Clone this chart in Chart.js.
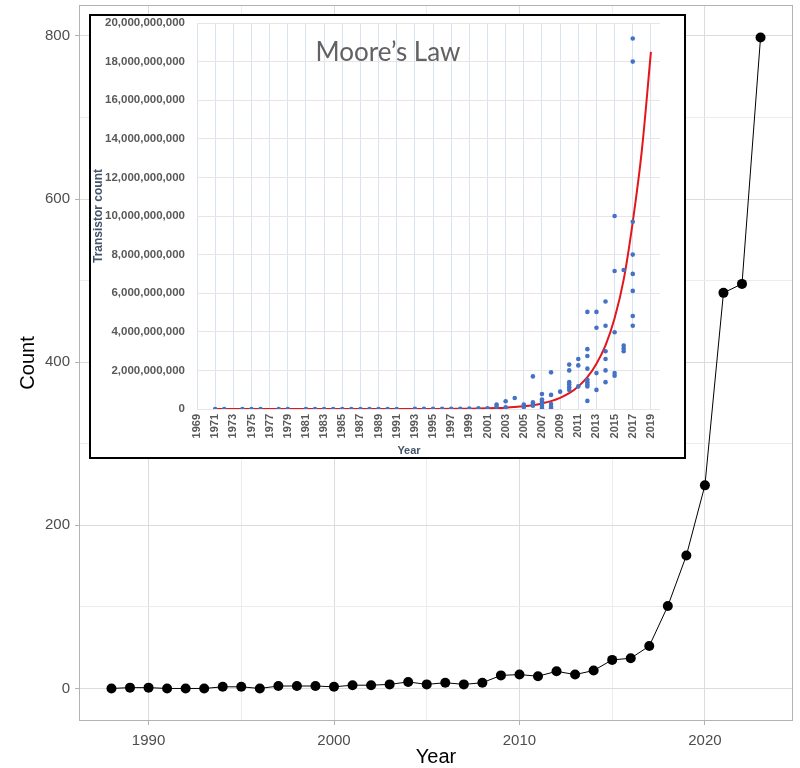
<!DOCTYPE html>
<html>
<head>
<meta charset="utf-8">
<script src="https://cdn.jsdelivr.net/npm/chart.js@4.4.1/dist/chart.umd.min.js"></script>
<style>
  html, body { margin: 0; padding: 0; background: #fff; }
  #wrap { position: relative; width: 800px; height: 768px; }
  #main { position: absolute; left: 0; top: 0; }
  #insetBox { position: absolute; left: 89px; top: 14px; width: 597px; height: 445px;
              border: 2px solid #000; box-sizing: border-box; background: #fff; }
  #inset { display: block; }
</style>
</head>
<body>
<div id="wrap">
  <canvas id="main" width="800" height="768"></canvas>
  <div id="insetBox"><canvas id="inset" width="593" height="441"></canvas></div>
</div>
<script>
// ---- Main series: yearly count ----
const years = [1988, 1989, 1990, 1991, 1992, 1993, 1994, 1995, 1996, 1997, 1998, 1999,
               2000, 2001, 2002, 2003, 2004, 2005, 2006, 2007, 2008, 2009, 2010, 2011,
               2012, 2013, 2014, 2015, 2016, 2017, 2018, 2019, 2020, 2021, 2022, 2023];
const counts = [0, 1, 1, 0, 0, 0, 2, 2, 0, 3, 3, 3,
                2, 4, 4, 5, 8, 5, 7, 5, 7, 16, 17, 15,
                21, 17, 22, 35, 37, 52, 101, 163, 249, 485, 496, 798];

const xGridYears = [1990, 1995, 2000, 2005, 2010, 2015, 2020];
const xLabelYears = [1990, 2000, 2010, 2020];
const yGridCounts = [0, 100, 200, 300, 400, 500, 600, 700, 800];
const yLabelCounts = [0, 200, 400, 600, 800];

// ---- Inset: transistor count per processor (billions) ----
const insetYears = [
  1971, 1972, 1974, 1975, 1976, 1978, 1979, 1981, 1982, 1983, 1984, 1985, 1986, 1987, 1988, 1989, 1990,
  1991, 1993, 1994, 1995, 1996, 1997, 1998, 1999, 2000, 2001,
  2002, 2002, 2003, 2003, 2004, 2005, 2005,
  2006, 2006, 2006, 2006,
  2007, 2007, 2007, 2007, 2007, 2007,
  2008, 2008, 2008, 2008, 2008,
  2009,
  2010, 2010, 2010, 2010, 2010, 2010,
  2011, 2011, 2011,
  2012, 2012, 2012, 2012, 2012, 2012, 2012, 2012, 2012,
  2013, 2013, 2013, 2013,
  2014, 2014, 2014, 2014, 2014, 2014,
  2015, 2015, 2015, 2015, 2015,
  2016, 2016, 2016, 2016,
  2017, 2017, 2017, 2017, 2017, 2017, 2017, 2017
];
const insetCountsBn = [
  0, 0, 0, 0, 0, 0, 0, 0, 0, 0, 0, 0, 0, 0, 0, 0, 0,
  0, 0.01, 0.01, 0.01, 0.01, 0.01, 0.01, 0.02, 0.03, 0.04,
  0.23, 0.12, 0.40, 0.09, 0.57, 0.23, 0.10,
  1.69, 0.35, 0.26, 0.17,
  0.78, 0.49, 0.40, 0.30, 0.17, 0.05,
  1.90, 0.73, 0.26, 0.12, 0.03,
  0.90,
  2.30, 2.00, 1.39, 1.27, 1.13, 0.99,
  2.59, 2.26, 1.17,
  5.03, 3.10, 2.75, 2.09, 1.51, 1.39, 1.27, 1.17, 0.42,
  5.03, 4.21, 1.86, 0.99,
  5.57, 4.31, 2.99, 2.59, 2.00, 1.39,
  10.0, 7.15, 3.98, 1.86, 1.72,
  7.20, 3.29, 3.13, 2.99,
  19.2, 18.0, 9.7, 8.0, 7.0, 6.12, 4.82, 4.31
];

// Trend curve sampled per year (billions)
const trendYears = [1971, 1975, 1980, 1985, 1990, 1995, 1998, 1999, 2000, 2001, 2002, 2003, 2004, 2005,
                    2006, 2007, 2008, 2009, 2010, 2011, 2012, 2013, 2014, 2015, 2016, 2017, 2018, 2019];
const trendBn = [0, 0, 0, 0, 0, 0.004, 0.012, 0.018, 0.025, 0.035, 0.05, 0.07, 0.1, 0.14,
                 0.2, 0.29, 0.41, 0.58, 0.82, 1.17, 1.65, 2.35, 3.3, 4.7, 6.7, 9.7, 13.4, 18.5];

const insetXTicks = [1969, 1971, 1973, 1975, 1977, 1979, 1981, 1983, 1985, 1987, 1989, 1991, 1993,
                     1995, 1997, 1999, 2001, 2003, 2005, 2007, 2009, 2011, 2013, 2015, 2017, 2019];
const insetYTicksBn = [0, 2, 4, 6, 8, 10, 12, 14, 16, 18, 20];

const pairs = (xs, ys) => xs.map((x, i) => ({ x, y: ys[i] }));

// Keep tick-label overhang from shrinking the plotting area
const noOverhang = s => { s.paddingTop = 0; s.paddingBottom = 0; s.paddingLeft = 0; s.paddingRight = 0; };

// Grey panel frame around the plotting area
const panelBorder = {
  id: 'panelBorder',
  beforeDatasetsDraw(chart) {
    const { ctx, chartArea: a } = chart;
    ctx.save();
    ctx.strokeStyle = '#b3b3b3';
    ctx.lineWidth = 1;
    ctx.strokeRect(a.left + 0.5, a.top + 0.5, a.right - a.left - 1, a.bottom - a.top - 1);
    ctx.restore();
  }
};

const tickFont = { family: '"Liberation Sans", Arial, sans-serif', size: 15 };
const titleFont = { family: '"Liberation Sans", Arial, sans-serif', size: 20, lineHeight: 1.1 };

new Chart(document.getElementById('main'), {
  type: 'scatter',
  data: {
    datasets: [{
      data: pairs(years, counts),
      showLine: true,
      borderColor: '#000',
      borderWidth: 1,
      backgroundColor: '#000',
      pointRadius: 5,
      pointBorderWidth: 0,
      pointHoverRadius: 5
    }]
  },
  options: {
    responsive: false,
    animation: false,
    devicePixelRatio: 1,
    layout: { padding: { left: 0, right: 7, top: 5, bottom: 0 } },
    plugins: { legend: { display: false }, tooltip: { enabled: false } },
    scales: {
      x: {
        type: 'linear', min: 1986.25, max: 2024.75,
        afterBuildTicks: s => { s.ticks = xGridYears.map(v => ({ value: v })); },
        afterFit: s => { s.height = 47; noOverhang(s); },
        ticks: {
          autoSkip: false, maxRotation: 0, padding: 7, color: '#4d4d4d', font: tickFont,
          callback: v => xLabelYears.includes(v) ? String(v) : ''
        },
        grid: {
          color: c => xLabelYears.includes(c.tick && c.tick.value) ? '#dcdcdc' : '#ececec',
          lineWidth: 1,
          tickLength: 4,
          tickColor: c => xLabelYears.includes(c.tick && c.tick.value) ? '#b3b3b3' : 'rgba(0,0,0,0)'
        },
        border: { display: false },
        title: { display: true, text: 'Year', color: '#000', font: titleFont, padding: { top: 0, bottom: 0 } }
      },
      y: {
        type: 'linear', min: -39.9, max: 837.9,
        afterBuildTicks: s => { s.ticks = yGridCounts.map(v => ({ value: v })); },
        afterFit: s => { s.width = 79; noOverhang(s); },
        ticks: {
          autoSkip: false, padding: 5, color: '#4d4d4d', font: tickFont,
          callback: v => yLabelCounts.includes(v) ? String(v) : ''
        },
        grid: {
          color: c => yLabelCounts.includes(c.tick && c.tick.value) ? '#dcdcdc' : '#ececec',
          lineWidth: 1,
          tickLength: 4,
          tickColor: c => yLabelCounts.includes(c.tick && c.tick.value) ? '#b3b3b3' : 'rgba(0,0,0,0)'
        },
        border: { display: false },
        title: { display: true, text: 'Count', color: '#000', font: titleFont, padding: { top: 17, bottom: 0 } }
      }
    }
  },
  plugins: [panelBorder]
});

// Inset: chart title and axis caption drawn inside the frame
const insetText = {
  id: 'insetText',
  afterDraw(chart) {
    const { ctx } = chart;
    ctx.save();
    ctx.textAlign = 'center';
    ctx.textBaseline = 'middle';
    ctx.fillStyle = '#626262';
    ctx.font = '400 26px Lato, "Open Sans", sans-serif';
    ctx.fillText('Moore\u2019s Law', 297, 37);
    ctx.fillStyle = '#44546a';
    ctx.font = 'bold 11px "Liberation Sans", Arial, sans-serif';
    ctx.fillText('Year', 318, 435);
    ctx.restore();
  }
};

new Chart(document.getElementById('inset'), {
  type: 'scatter',
  data: {
    datasets: [
      {
        data: pairs(insetYears, insetCountsBn),
        backgroundColor: '#4472c4',
        borderWidth: 0,
        pointRadius: 2.3,
        pointHoverRadius: 2.3
      },
      {
        data: pairs(trendYears, trendBn),
        showLine: true,
        borderColor: '#e3161c',
        borderWidth: 2,
        pointRadius: 0,
        pointHoverRadius: 0,
        cubicInterpolationMode: 'monotone'
      }
    ]
  },
  options: {
    responsive: false,
    animation: false,
    devicePixelRatio: 1,
    layout: { padding: { left: 0, right: 24, top: 7, bottom: 0 } },
    plugins: { legend: { display: false }, tooltip: { enabled: false } },
    scales: {
      x: {
        type: 'linear', min: 1969, max: 2020,
        afterBuildTicks: s => { s.ticks = insetXTicks.map(v => ({ value: v })); },
        afterFit: s => { s.height = 48; noOverhang(s); },
        ticks: {
          autoSkip: false, minRotation: 90, maxRotation: 90, padding: 5,
          color: '#595959', font: { family: '"Liberation Sans", Arial, sans-serif', size: 11, weight: 'bold' },
          callback: v => String(v)
        },
        grid: { color: '#d9e2f0', lineWidth: 1, drawTicks: false },
        border: { display: false }
      },
      y: {
        type: 'linear', min: 0, max: 20,
        afterBuildTicks: s => { s.ticks = insetYTicksBn.map(v => ({ value: v })); },
        afterFit: s => { s.width = 106; noOverhang(s); },
        ticks: {
          autoSkip: false, padding: 12,
          color: '#595959', font: { family: '"Liberation Sans", Arial, sans-serif', size: 11.5, weight: 'bold' },
          callback: v => (v * 1e9).toLocaleString('en-US')
        },
        grid: { color: '#e6e6e6', lineWidth: 1, drawTicks: false },
        border: { display: false },
        title: {
          display: true, text: 'Transistor count', color: '#44546a',
          font: { family: '"Liberation Sans", Arial, sans-serif', size: 12, weight: 'bold', lineHeight: 1.0 },
          padding: { top: 2, bottom: 0 }
        }
      }
    }
  },
  plugins: [insetText]
});
</script>
</body>
</html>
